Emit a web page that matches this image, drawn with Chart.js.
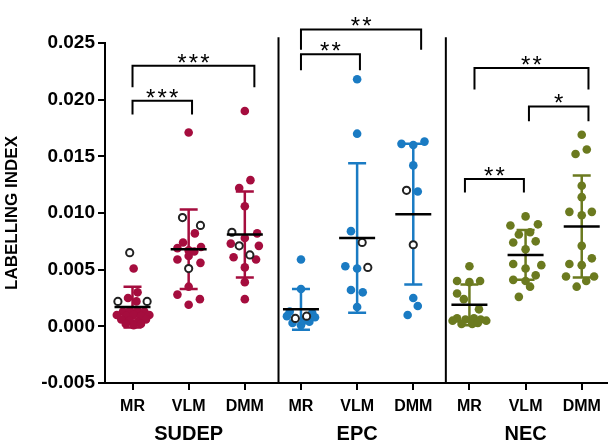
<!DOCTYPE html>
<html>
<head>
<meta charset="utf-8">
<script src="https://cdn.jsdelivr.net/npm/chart.js@4/dist/chart.umd.min.js"></script>
<style>
  html, body { margin: 0; padding: 0; background: #fff; }
</style>
</head>
<body>
<canvas id="chart" width="613" height="445"></canvas>
<script>
// ── Data ──────────────────────────────────────────────────────────────
const categories = ["MR", "VLM", "DMM", "MR", "VLM", "DMM", "MR", "VLM", "DMM"];
const groups = ["SUDEP", "EPC", "NEC"];
const yTicks = [-0.005, 0, 0.005, 0.010, 0.015, 0.020, 0.025];
const yTickLabels = ["-0.005", "0.000", "0.005", "0.010", "0.015", "0.020", "0.025"];

// mean and SD of each column
const means = [0.0017, 0.0068, 0.0081, 0.0015, 0.0078, 0.0099, 0.0019, 0.0063, 0.0088];
const sds   = [0.0018, 0.0035, 0.0038, 0.0018, 0.0066, 0.0062, 0.0018, 0.0022, 0.0045];

// points: [jitter, value]
const sudepMR = [[0.02,0.0051],[0.09,0.0030],[-0.08,0.0025],[0.07,0.0022],
  [-0.17,0.0013],[-0.05,0.0014],[0.09,0.0014],[0.21,0.0013],
  [-0.28,0.0010],[0.30,0.0010],[-0.11,0.0009],[0.02,0.0010],[0.15,0.0009],
  [-0.20,0.0006],[-0.05,0.0005],[0.09,0.0004],[0.24,0.0006],
  [0.02,0.0001],[-0.12,0.0002],[0.15,0.0002]];
const sudepVLM = [[0,0.0171],[0.11,0.0082],[-0.10,0.0074],[-0.20,0.0069],[0.22,0.0070],
  [0.10,0.0066],[0,0.0067],[-0.20,0.0059],[0,0.0062],[0.21,0.0056],
  [0,0.0035],[-0.20,0.0028],[0.20,0.0024],[0,0.0019]];
const sudepDMM = [[0,0.0190],[0.10,0.0129],[-0.10,0.0122],[0,0.0106],[0.22,0.0082],
  [0,0.0078],[-0.25,0.0073],[0.25,0.0071],[-0.20,0.0061],[0.20,0.0059],
  [0,0.0052],[0,0.0039],[0,0.0024]];
const epcMR = [[0,0.0059],[0,0.0033],[-0.20,0.0013],[0.20,0.0012],[-0.15,0.0003],
  [0,0.0001],[0.15,0.0004],[0.25,0.0008],[-0.25,0.0009],[0.05,0.0005]];
const epcVLM = [[0,0.0218],[0,0.0170],[-0.11,0.0084],[-0.21,0.0053],[0,0.0051],
  [-0.11,0.0032],[0.10,0.0030],[0,0.0017]];
const epcDMM = [[-0.21,0.0161],[0,0.0160],[0.20,0.0163],[0,0.0142],[0.08,0.0119],
  [0,0.0025],[0.08,0.0018],[-0.10,0.0010]];
const necMR = [[0,0.0053],[-0.22,0.0040],[0,0.0039],[0.19,0.0040],[-0.22,0.0029],
  [-0.10,0.0024],[0.17,0.0015],[-0.22,0.0007],[-0.07,0.0006],[0.08,0.0007],
  [0.20,0.0006],[-0.14,0.0002],[0.05,0.0002],[0.15,0.0003],[-0.30,0.0005],[0.30,0.0005]];
const necVLM = [[0,0.0097],[-0.27,0.0089],[0.22,0.0090],[-0.12,0.0081],[0.08,0.0083],
  [-0.22,0.0074],[0.18,0.0075],[0,0.0068],[-0.22,0.0055],[0.28,0.0054],
  [0,0.0051],[0.18,0.0045],[-0.22,0.0041],[0,0.0040],[0.08,0.0035],[-0.12,0.0026]];
const necDMM = [[0,0.0169],[-0.11,0.0152],[0.09,0.0156],[0,0.0124],[0,0.0114],
  [-0.22,0.0101],[0.18,0.0101],[0,0.0098],[0,0.0071],[0.18,0.0060],
  [-0.22,0.0055],[0,0.0054],[-0.28,0.0044],[0.22,0.0044],[0.08,0.0040],[-0.09,0.0035]];

// open (hollow) points, same layout
const sudepMROpen  = [[-0.05,0.0065],[-0.26,0.0022],[0.26,0.0022]];
const sudepVLMOpen = [[-0.11,0.0096],[0.21,0.0089],[0,0.0051]];
const sudepDMMOpen = [[-0.23,0.0083],[-0.10,0.0071],[0.09,0.0063]];
const epcMROpen    = [[-0.10,0.0007],[0.10,0.0009]];
const epcVLMOpen   = [[0.09,0.0074],[0.19,0.0052]];
const epcDMMOpen   = [[-0.12,0.0120],[0,0.0072]];

const filledPoints = [sudepMR, sudepVLM, sudepDMM, epcMR, epcVLM, epcDMM, necMR, necVLM, necDMM];
const openPoints   = [sudepMROpen, sudepVLMOpen, sudepDMMOpen, epcMROpen, epcVLMOpen, epcDMMOpen, [], [], []];

// significance brackets
const bracketFrom   = [0, 0, 3.00, 3.00, 5.92, 7.06, 6.09];
const bracketTo     = [1.06, 2.17, 4.05, 5.14, 6.97, 8.12, 8.12];
const bracketTop    = [0.0199, 0.0230, 0.0240, 0.0262, 0.0130, 0.0194, 0.0228];
const bracketBottom = [0.0187, 0.0211, 0.0226, 0.0244, 0.0118, 0.0181, 0.0209];
const bracketLabel  = ["***", "***", "**", "**", "**", "*", "**"];

// vertical group separators
const separatorX = [2.6, 5.58];
const separatorTop = 0.0255;

// ── Styles ────────────────────────────────────────────────────────────
const groupColors = ["#A50D3E", "#1A7BC3", "#6B7A1F"];
const FONT = "'Liberation Sans', Arial, sans-serif";

const datasets = [];
openPoints.forEach((pts, i) => {
    if (!pts.length) return;
    datasets.push({
        data: pts.map(([dx, v]) => ({ x: i + dx, y: v })),
        pointRadius: 3.6,
        pointBorderWidth: 2,
        pointBorderColor: "#222",
        pointBackgroundColor: "#fff",
    });
});
filledPoints.forEach((pts, i) => {
    datasets.push({
        data: pts.map(([dx, v]) => ({ x: i + dx, y: v })),
        pointRadius: 4.3,
        pointBorderWidth: 0,
        pointBackgroundColor: groupColors[Math.floor(i / 3)],
    });
});

const extras = {
    id: "extras",
    beforeDatasetsDraw(chart) {
        const { ctx, chartArea, scales: { x, y } } = chart;
        ctx.save();
        ctx.strokeStyle = "#000";
        ctx.lineWidth = 2;
        separatorX.forEach(v => {
            const px = x.getPixelForValue(v);
            ctx.beginPath();
            ctx.moveTo(px, y.getPixelForValue(separatorTop));
            ctx.lineTo(px, chartArea.bottom);
            ctx.stroke();
        });
        // SD bars
        ctx.lineWidth = 2.5;
        means.forEach((m, i) => {
            const px = x.getPixelForValue(i);
            const top = y.getPixelForValue(m + sds[i]);
            const bot = y.getPixelForValue(m - sds[i]);
            ctx.strokeStyle = groupColors[Math.floor(i / 3)];
            ctx.beginPath();
            ctx.moveTo(px, top); ctx.lineTo(px, bot);
            ctx.moveTo(px - 9, top); ctx.lineTo(px + 9, top);
            ctx.moveTo(px - 9, bot); ctx.lineTo(px + 9, bot);
            ctx.stroke();
        });
        ctx.restore();
    },
    afterDatasetsDraw(chart) {
        const { ctx, scales: { x, y } } = chart;
        ctx.save();
        ctx.strokeStyle = "#000";
        ctx.lineWidth = 2.5;
        means.forEach((m, i) => {
            const px = x.getPixelForValue(i);
            const py = y.getPixelForValue(m);
            ctx.beginPath();
            ctx.moveTo(px - 18, py); ctx.lineTo(px + 18, py);
            ctx.stroke();
        });
        ctx.restore();
    },
    afterDraw(chart) {
        const { ctx, chartArea, scales: { x, y } } = chart;
        ctx.save();
        ctx.strokeStyle = "#000";
        ctx.fillStyle = "#000";
        ctx.lineWidth = 2;
        ctx.textAlign = "center";
        bracketFrom.forEach((from, i) => {
            const x1 = x.getPixelForValue(from);
            const x2 = x.getPixelForValue(bracketTo[i]);
            const yt = y.getPixelForValue(bracketTop[i]);
            const yb = y.getPixelForValue(bracketBottom[i]);
            ctx.beginPath();
            ctx.moveTo(x1, yb); ctx.lineTo(x1, yt); ctx.lineTo(x2, yt); ctx.lineTo(x2, yb);
            ctx.stroke();
            // stars, a little spread out
            ctx.font = `24px ${FONT}`;
            ctx.textBaseline = "alphabetic";
            const stars = bracketLabel[i];
            const mid = (x1 + x2) / 2;
            for (let k = 0; k < stars.length; k++) {
                ctx.fillText("*", mid + (k - (stars.length - 1) / 2) * 11.5, yt + 5);
            }
        });
        // group names under the columns
        ctx.font = `bold 20px ${FONT}`;
        ctx.textBaseline = "middle";
        groups.forEach((g, i) => {
            ctx.fillText(g, x.getPixelForValue(i * 3 + 1), chartArea.bottom + 51);
        });
        ctx.restore();
    }
};

new Chart(document.getElementById("chart"), {
    type: "scatter",
    data: { datasets },
    options: {
        responsive: false,
        animation: false,
        devicePixelRatio: 1,
        layout: { padding: { top: 43, right: 0, left: 0, bottom: 0 } },
        plugins: { legend: { display: false }, tooltip: { enabled: false } },
        scales: {
            x: {
                type: "linear",
                min: -0.49,
                max: 8.45,
                afterBuildTicks: (scale) => { scale.ticks = categories.map((c, i) => ({ value: i })); },
                afterFit: (scale) => { scale.height = 62; },
                ticks: {
                    callback: (v, i) => categories[i],
                    color: "#000",
                    font: { family: FONT, size: 16, weight: "bold" },
                    padding: 7,
                    maxRotation: 0,
                    autoSkip: false,
                },
                grid: { drawOnChartArea: false, color: "#000", lineWidth: 2, tickLength: 7 },
                border: { color: "#000", width: 2 },
            },
            y: {
                min: -0.005,
                max: 0.025,
                afterBuildTicks: (scale) => { scale.ticks = yTicks.map(v => ({ value: v })); },
                afterFit: (scale) => { scale.width = 105; },
                ticks: {
                    callback: (v, i) => yTickLabels[i],
                    color: "#000",
                    font: { family: FONT, size: 19, weight: "bold" },
                    padding: 3,
                },
                grid: { drawOnChartArea: false, color: "#000", lineWidth: 2, tickLength: 7 },
                border: { color: "#000", width: 2 },
                title: {
                    display: true,
                    text: "LABELLING INDEX",
                    color: "#000",
                    font: { family: FONT, size: 17, weight: "bold" },
                    padding: { top: 2, bottom: 0 },
                },
            },
        },
    },
    plugins: [extras],
});
</script>
</body>
</html>
